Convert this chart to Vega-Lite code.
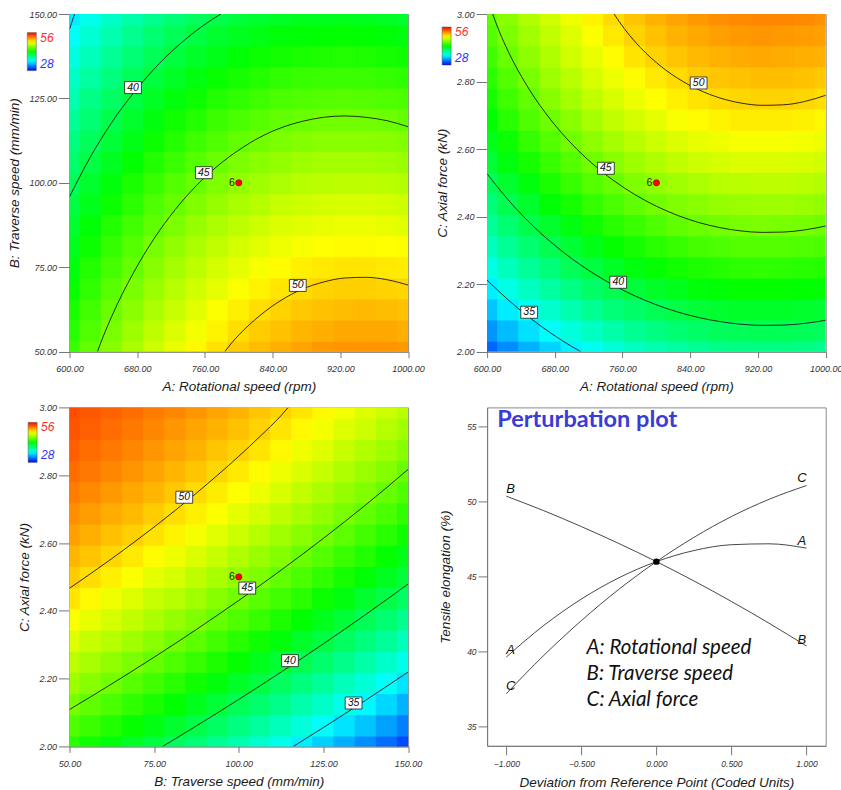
{
"$schema": "https://vega.github.io/schema/vega-lite/v6.json",
"padding": {"left": 6.5, "top": 9, "right": 0, "bottom": 0},
"background": "white",
"config": {
 "view": {"stroke": "#8a8a8a", "strokeWidth": 1},
 "axis": {"labelFont": "Liberation Sans", "labelFontStyle": "italic", "labelFontSize": 9, "labelColor": "#333", "titleFont": "Liberation Sans", "titleFontStyle": "italic", "titleFontWeight": "normal", "titleFontSize": 13.5, "titleColor": "#1a1a1a", "grid": false, "domainColor": "#777", "tickColor": "#777", "labelFlush": false, "labelOverlap": false},
 "axisX": {"tickSize": 6, "labelPadding": 7, "titlePadding": 6},
 "axisY": {"tickSize": 11, "labelPadding": 2, "titlePadding": 7}
},
"datasets": {
"g1": [
{"x":600,"y":50,"v":43.5},{"x":625,"y":50,"v":44.7},{"x":650,"y":50,"v":45.7},{"x":675,"y":50,"v":46.7},{"x":700,"y":50,"v":47.6},{"x":725,"y":50,"v":48.4},{"x":750,"y":50,"v":49.2},{"x":775,"y":50,"v":49.8},{"x":800,"y":50,"v":50.4},{"x":825,"y":50,"v":50.8},{"x":850,"y":50,"v":51.2},{"x":875,"y":50,"v":51.5},{"x":900,"y":50,"v":51.8},{"x":925,"y":50,"v":51.9},{"x":950,"y":50,"v":51.9},{"x":975,"y":50,"v":51.9},{"x":1000,"y":50,"v":51.8},
{"x":600,"y":56.25,"v":43.1},{"x":625,"y":56.25,"v":44.2},{"x":650,"y":56.25,"v":45.3},{"x":675,"y":56.25,"v":46.3},{"x":700,"y":56.25,"v":47.2},{"x":725,"y":56.25,"v":48.0},{"x":750,"y":56.25,"v":48.7},{"x":775,"y":56.25,"v":49.3},{"x":800,"y":56.25,"v":49.9},{"x":825,"y":56.25,"v":50.4},{"x":850,"y":56.25,"v":50.7},{"x":875,"y":56.25,"v":51.0},{"x":900,"y":56.25,"v":51.2},{"x":925,"y":56.25,"v":51.4},{"x":950,"y":56.25,"v":51.4},{"x":975,"y":56.25,"v":51.4},{"x":1000,"y":56.25,"v":51.2},
{"x":600,"y":62.5,"v":42.7},{"x":625,"y":62.5,"v":43.8},{"x":650,"y":62.5,"v":44.9},{"x":675,"y":62.5,"v":45.8},{"x":700,"y":62.5,"v":46.7},{"x":725,"y":62.5,"v":47.5},{"x":750,"y":62.5,"v":48.2},{"x":775,"y":62.5,"v":48.9},{"x":800,"y":62.5,"v":49.4},{"x":825,"y":62.5,"v":49.9},{"x":850,"y":62.5,"v":50.2},{"x":875,"y":62.5,"v":50.5},{"x":900,"y":62.5,"v":50.7},{"x":925,"y":62.5,"v":50.8},{"x":950,"y":62.5,"v":50.9},{"x":975,"y":62.5,"v":50.8},{"x":1000,"y":62.5,"v":50.7},
{"x":600,"y":68.75,"v":42.2},{"x":625,"y":68.75,"v":43.3},{"x":650,"y":68.75,"v":44.4},{"x":675,"y":68.75,"v":45.3},{"x":700,"y":68.75,"v":46.2},{"x":725,"y":68.75,"v":47.0},{"x":750,"y":68.75,"v":47.7},{"x":775,"y":68.75,"v":48.3},{"x":800,"y":68.75,"v":48.9},{"x":825,"y":68.75,"v":49.3},{"x":850,"y":68.75,"v":49.7},{"x":875,"y":68.75,"v":50.0},{"x":900,"y":68.75,"v":50.2},{"x":925,"y":68.75,"v":50.3},{"x":950,"y":68.75,"v":50.3},{"x":975,"y":68.75,"v":50.2},{"x":1000,"y":68.75,"v":50.1},
{"x":600,"y":75,"v":41.7},{"x":625,"y":75,"v":42.9},{"x":650,"y":75,"v":43.9},{"x":675,"y":75,"v":44.8},{"x":700,"y":75,"v":45.7},{"x":725,"y":75,"v":46.5},{"x":750,"y":75,"v":47.2},{"x":775,"y":75,"v":47.8},{"x":800,"y":75,"v":48.3},{"x":825,"y":75,"v":48.8},{"x":850,"y":75,"v":49.1},{"x":875,"y":75,"v":49.4},{"x":900,"y":75,"v":49.6},{"x":925,"y":75,"v":49.7},{"x":950,"y":75,"v":49.7},{"x":975,"y":75,"v":49.6},{"x":1000,"y":75,"v":49.5},
{"x":600,"y":81.25,"v":41.2},{"x":625,"y":81.25,"v":42.3},{"x":650,"y":81.25,"v":43.4},{"x":675,"y":81.25,"v":44.3},{"x":700,"y":81.25,"v":45.2},{"x":725,"y":81.25,"v":46.0},{"x":750,"y":81.25,"v":46.7},{"x":775,"y":81.25,"v":47.3},{"x":800,"y":81.25,"v":47.8},{"x":825,"y":81.25,"v":48.2},{"x":850,"y":81.25,"v":48.6},{"x":875,"y":81.25,"v":48.8},{"x":900,"y":81.25,"v":49.0},{"x":925,"y":81.25,"v":49.1},{"x":950,"y":81.25,"v":49.1},{"x":975,"y":81.25,"v":49.0},{"x":1000,"y":81.25,"v":48.9},
{"x":600,"y":87.5,"v":40.7},{"x":625,"y":87.5,"v":41.8},{"x":650,"y":87.5,"v":42.9},{"x":675,"y":87.5,"v":43.8},{"x":700,"y":87.5,"v":44.6},{"x":725,"y":87.5,"v":45.4},{"x":750,"y":87.5,"v":46.1},{"x":775,"y":87.5,"v":46.7},{"x":800,"y":87.5,"v":47.2},{"x":825,"y":87.5,"v":47.6},{"x":850,"y":87.5,"v":48.0},{"x":875,"y":87.5,"v":48.2},{"x":900,"y":87.5,"v":48.4},{"x":925,"y":87.5,"v":48.5},{"x":950,"y":87.5,"v":48.5},{"x":975,"y":87.5,"v":48.4},{"x":1000,"y":87.5,"v":48.2},
{"x":600,"y":93.75,"v":40.2},{"x":625,"y":93.75,"v":41.3},{"x":650,"y":93.75,"v":42.3},{"x":675,"y":93.75,"v":43.2},{"x":700,"y":93.75,"v":44.1},{"x":725,"y":93.75,"v":44.8},{"x":750,"y":93.75,"v":45.5},{"x":775,"y":93.75,"v":46.1},{"x":800,"y":93.75,"v":46.6},{"x":825,"y":93.75,"v":47.0},{"x":850,"y":93.75,"v":47.4},{"x":875,"y":93.75,"v":47.6},{"x":900,"y":93.75,"v":47.8},{"x":925,"y":93.75,"v":47.9},{"x":950,"y":93.75,"v":47.9},{"x":975,"y":93.75,"v":47.8},{"x":1000,"y":93.75,"v":47.6},
{"x":600,"y":100,"v":39.6},{"x":625,"y":100,"v":40.7},{"x":650,"y":100,"v":41.7},{"x":675,"y":100,"v":42.7},{"x":700,"y":100,"v":43.5},{"x":725,"y":100,"v":44.3},{"x":750,"y":100,"v":44.9},{"x":775,"y":100,"v":45.5},{"x":800,"y":100,"v":46.0},{"x":825,"y":100,"v":46.4},{"x":850,"y":100,"v":46.7},{"x":875,"y":100,"v":47.0},{"x":900,"y":100,"v":47.1},{"x":925,"y":100,"v":47.2},{"x":950,"y":100,"v":47.2},{"x":975,"y":100,"v":47.1},{"x":1000,"y":100,"v":46.9},
{"x":600,"y":106.25,"v":39.1},{"x":625,"y":106.25,"v":40.1},{"x":650,"y":106.25,"v":41.1},{"x":675,"y":106.25,"v":42.1},{"x":700,"y":106.25,"v":42.9},{"x":725,"y":106.25,"v":43.6},{"x":750,"y":106.25,"v":44.3},{"x":775,"y":106.25,"v":44.9},{"x":800,"y":106.25,"v":45.4},{"x":825,"y":106.25,"v":45.8},{"x":850,"y":106.25,"v":46.1},{"x":875,"y":106.25,"v":46.3},{"x":900,"y":106.25,"v":46.5},{"x":925,"y":106.25,"v":46.5},{"x":950,"y":106.25,"v":46.5},{"x":975,"y":106.25,"v":46.4},{"x":1000,"y":106.25,"v":46.2},
{"x":600,"y":112.5,"v":38.5},{"x":625,"y":112.5,"v":39.5},{"x":650,"y":112.5,"v":40.5},{"x":675,"y":112.5,"v":41.4},{"x":700,"y":112.5,"v":42.3},{"x":725,"y":112.5,"v":43.0},{"x":750,"y":112.5,"v":43.7},{"x":775,"y":112.5,"v":44.2},{"x":800,"y":112.5,"v":44.7},{"x":825,"y":112.5,"v":45.1},{"x":850,"y":112.5,"v":45.4},{"x":875,"y":112.5,"v":45.6},{"x":900,"y":112.5,"v":45.8},{"x":925,"y":112.5,"v":45.8},{"x":950,"y":112.5,"v":45.8},{"x":975,"y":112.5,"v":45.7},{"x":1000,"y":112.5,"v":45.5},
{"x":600,"y":118.75,"v":37.9},{"x":625,"y":118.75,"v":38.9},{"x":650,"y":118.75,"v":39.9},{"x":675,"y":118.75,"v":40.8},{"x":700,"y":118.75,"v":41.6},{"x":725,"y":118.75,"v":42.4},{"x":750,"y":118.75,"v":43.0},{"x":775,"y":118.75,"v":43.6},{"x":800,"y":118.75,"v":44.0},{"x":825,"y":118.75,"v":44.4},{"x":850,"y":118.75,"v":44.7},{"x":875,"y":118.75,"v":44.9},{"x":900,"y":118.75,"v":45.1},{"x":925,"y":118.75,"v":45.1},{"x":950,"y":118.75,"v":45.1},{"x":975,"y":118.75,"v":45.0},{"x":1000,"y":118.75,"v":44.7},
{"x":600,"y":125,"v":37.2},{"x":625,"y":125,"v":38.3},{"x":650,"y":125,"v":39.3},{"x":675,"y":125,"v":40.2},{"x":700,"y":125,"v":41.0},{"x":725,"y":125,"v":41.7},{"x":750,"y":125,"v":42.3},{"x":775,"y":125,"v":42.9},{"x":800,"y":125,"v":43.3},{"x":825,"y":125,"v":43.7},{"x":850,"y":125,"v":44.0},{"x":875,"y":125,"v":44.2},{"x":900,"y":125,"v":44.3},{"x":925,"y":125,"v":44.4},{"x":950,"y":125,"v":44.3},{"x":975,"y":125,"v":44.2},{"x":1000,"y":125,"v":44.0},
{"x":600,"y":131.25,"v":36.6},{"x":625,"y":131.25,"v":37.6},{"x":650,"y":131.25,"v":38.6},{"x":675,"y":131.25,"v":39.5},{"x":700,"y":131.25,"v":40.3},{"x":725,"y":131.25,"v":41.0},{"x":750,"y":131.25,"v":41.6},{"x":775,"y":131.25,"v":42.2},{"x":800,"y":131.25,"v":42.6},{"x":825,"y":131.25,"v":43.0},{"x":850,"y":131.25,"v":43.3},{"x":875,"y":131.25,"v":43.5},{"x":900,"y":131.25,"v":43.6},{"x":925,"y":131.25,"v":43.6},{"x":950,"y":131.25,"v":43.6},{"x":975,"y":131.25,"v":43.4},{"x":1000,"y":131.25,"v":43.2},
{"x":600,"y":137.5,"v":35.9},{"x":625,"y":137.5,"v":36.9},{"x":650,"y":137.5,"v":37.9},{"x":675,"y":137.5,"v":38.8},{"x":700,"y":137.5,"v":39.6},{"x":725,"y":137.5,"v":40.3},{"x":750,"y":137.5,"v":40.9},{"x":775,"y":137.5,"v":41.4},{"x":800,"y":137.5,"v":41.9},{"x":825,"y":137.5,"v":42.3},{"x":850,"y":137.5,"v":42.5},{"x":875,"y":137.5,"v":42.7},{"x":900,"y":137.5,"v":42.8},{"x":925,"y":137.5,"v":42.9},{"x":950,"y":137.5,"v":42.8},{"x":975,"y":137.5,"v":42.6},{"x":1000,"y":137.5,"v":42.4},
{"x":600,"y":143.75,"v":35.2},{"x":625,"y":143.75,"v":36.2},{"x":650,"y":143.75,"v":37.2},{"x":675,"y":143.75,"v":38.1},{"x":700,"y":143.75,"v":38.9},{"x":725,"y":143.75,"v":39.6},{"x":750,"y":143.75,"v":40.2},{"x":775,"y":143.75,"v":40.7},{"x":800,"y":143.75,"v":41.1},{"x":825,"y":143.75,"v":41.5},{"x":850,"y":143.75,"v":41.8},{"x":875,"y":143.75,"v":41.9},{"x":900,"y":143.75,"v":42.0},{"x":925,"y":143.75,"v":42.1},{"x":950,"y":143.75,"v":42.0},{"x":975,"y":143.75,"v":41.8},{"x":1000,"y":143.75,"v":41.6},
{"x":600,"y":150,"v":34.5},{"x":625,"y":150,"v":35.5},{"x":650,"y":150,"v":36.5},{"x":675,"y":150,"v":37.3},{"x":700,"y":150,"v":38.1},{"x":725,"y":150,"v":38.8},{"x":750,"y":150,"v":39.4},{"x":775,"y":150,"v":39.9},{"x":800,"y":150,"v":40.4},{"x":825,"y":150,"v":40.7},{"x":850,"y":150,"v":41.0},{"x":875,"y":150,"v":41.2},{"x":900,"y":150,"v":41.2},{"x":925,"y":150,"v":41.3},{"x":950,"y":150,"v":41.2},{"x":975,"y":150,"v":41.0},{"x":1000,"y":150,"v":40.8}
],
"g2": [
{"x":600,"y":2,"v":30.8},{"x":625,"y":2,"v":31.9},{"x":650,"y":2,"v":32.9},{"x":675,"y":2,"v":33.8},{"x":700,"y":2,"v":34.7},{"x":725,"y":2,"v":35.4},{"x":750,"y":2,"v":36.1},{"x":775,"y":2,"v":36.7},{"x":800,"y":2,"v":37.2},{"x":825,"y":2,"v":37.6},{"x":850,"y":2,"v":37.9},{"x":875,"y":2,"v":38.2},{"x":900,"y":2,"v":38.3},{"x":925,"y":2,"v":38.4},{"x":950,"y":2,"v":38.4},{"x":975,"y":2,"v":38.3},{"x":1000,"y":2,"v":38.1},
{"x":600,"y":2.0625,"v":32.1},{"x":625,"y":2.0625,"v":33.2},{"x":650,"y":2.0625,"v":34.2},{"x":675,"y":2.0625,"v":35.1},{"x":700,"y":2.0625,"v":36.0},{"x":725,"y":2.0625,"v":36.7},{"x":750,"y":2.0625,"v":37.4},{"x":775,"y":2.0625,"v":38.0},{"x":800,"y":2.0625,"v":38.5},{"x":825,"y":2.0625,"v":38.9},{"x":850,"y":2.0625,"v":39.2},{"x":875,"y":2.0625,"v":39.5},{"x":900,"y":2.0625,"v":39.6},{"x":925,"y":2.0625,"v":39.7},{"x":950,"y":2.0625,"v":39.7},{"x":975,"y":2.0625,"v":39.6},{"x":1000,"y":2.0625,"v":39.4},
{"x":600,"y":2.125,"v":33.4},{"x":625,"y":2.125,"v":34.5},{"x":650,"y":2.125,"v":35.5},{"x":675,"y":2.125,"v":36.4},{"x":700,"y":2.125,"v":37.2},{"x":725,"y":2.125,"v":38.0},{"x":750,"y":2.125,"v":38.7},{"x":775,"y":2.125,"v":39.2},{"x":800,"y":2.125,"v":39.7},{"x":825,"y":2.125,"v":40.1},{"x":850,"y":2.125,"v":40.5},{"x":875,"y":2.125,"v":40.7},{"x":900,"y":2.125,"v":40.9},{"x":925,"y":2.125,"v":40.9},{"x":950,"y":2.125,"v":40.9},{"x":975,"y":2.125,"v":40.8},{"x":1000,"y":2.125,"v":40.6},
{"x":600,"y":2.1875,"v":34.6},{"x":625,"y":2.1875,"v":35.7},{"x":650,"y":2.1875,"v":36.7},{"x":675,"y":2.1875,"v":37.6},{"x":700,"y":2.1875,"v":38.4},{"x":725,"y":2.1875,"v":39.2},{"x":750,"y":2.1875,"v":39.8},{"x":775,"y":2.1875,"v":40.4},{"x":800,"y":2.1875,"v":40.9},{"x":825,"y":2.1875,"v":41.3},{"x":850,"y":2.1875,"v":41.7},{"x":875,"y":2.1875,"v":41.9},{"x":900,"y":2.1875,"v":42.1},{"x":925,"y":2.1875,"v":42.1},{"x":950,"y":2.1875,"v":42.1},{"x":975,"y":2.1875,"v":42.0},{"x":1000,"y":2.1875,"v":41.8},
{"x":600,"y":2.25,"v":35.7},{"x":625,"y":2.25,"v":36.8},{"x":650,"y":2.25,"v":37.8},{"x":675,"y":2.25,"v":38.7},{"x":700,"y":2.25,"v":39.6},{"x":725,"y":2.25,"v":40.3},{"x":750,"y":2.25,"v":41.0},{"x":775,"y":2.25,"v":41.6},{"x":800,"y":2.25,"v":42.1},{"x":825,"y":2.25,"v":42.5},{"x":850,"y":2.25,"v":42.8},{"x":875,"y":2.25,"v":43.0},{"x":900,"y":2.25,"v":43.2},{"x":925,"y":2.25,"v":43.3},{"x":950,"y":2.25,"v":43.2},{"x":975,"y":2.25,"v":43.1},{"x":1000,"y":2.25,"v":43.0},
{"x":600,"y":2.3125,"v":36.8},{"x":625,"y":2.3125,"v":37.9},{"x":650,"y":2.3125,"v":38.9},{"x":675,"y":2.3125,"v":39.8},{"x":700,"y":2.3125,"v":40.6},{"x":725,"y":2.3125,"v":41.4},{"x":750,"y":2.3125,"v":42.1},{"x":775,"y":2.3125,"v":42.6},{"x":800,"y":2.3125,"v":43.1},{"x":825,"y":2.3125,"v":43.5},{"x":850,"y":2.3125,"v":43.9},{"x":875,"y":2.3125,"v":44.1},{"x":900,"y":2.3125,"v":44.3},{"x":925,"y":2.3125,"v":44.3},{"x":950,"y":2.3125,"v":44.3},{"x":975,"y":2.3125,"v":44.2},{"x":1000,"y":2.3125,"v":44.0},
{"x":600,"y":2.375,"v":37.8},{"x":625,"y":2.375,"v":38.9},{"x":650,"y":2.375,"v":39.9},{"x":675,"y":2.375,"v":40.8},{"x":700,"y":2.375,"v":41.6},{"x":725,"y":2.375,"v":42.4},{"x":750,"y":2.375,"v":43.1},{"x":775,"y":2.375,"v":43.6},{"x":800,"y":2.375,"v":44.1},{"x":825,"y":2.375,"v":44.6},{"x":850,"y":2.375,"v":44.9},{"x":875,"y":2.375,"v":45.1},{"x":900,"y":2.375,"v":45.3},{"x":925,"y":2.375,"v":45.4},{"x":950,"y":2.375,"v":45.3},{"x":975,"y":2.375,"v":45.2},{"x":1000,"y":2.375,"v":45.0},
{"x":600,"y":2.4375,"v":38.7},{"x":625,"y":2.4375,"v":39.8},{"x":650,"y":2.4375,"v":40.8},{"x":675,"y":2.4375,"v":41.8},{"x":700,"y":2.4375,"v":42.6},{"x":725,"y":2.4375,"v":43.4},{"x":750,"y":2.4375,"v":44.0},{"x":775,"y":2.4375,"v":44.6},{"x":800,"y":2.4375,"v":45.1},{"x":825,"y":2.4375,"v":45.5},{"x":850,"y":2.4375,"v":45.8},{"x":875,"y":2.4375,"v":46.1},{"x":900,"y":2.4375,"v":46.2},{"x":925,"y":2.4375,"v":46.3},{"x":950,"y":2.4375,"v":46.3},{"x":975,"y":2.4375,"v":46.2},{"x":1000,"y":2.4375,"v":46.0},
{"x":600,"y":2.5,"v":39.6},{"x":625,"y":2.5,"v":40.7},{"x":650,"y":2.5,"v":41.7},{"x":675,"y":2.5,"v":42.7},{"x":700,"y":2.5,"v":43.5},{"x":725,"y":2.5,"v":44.3},{"x":750,"y":2.5,"v":44.9},{"x":775,"y":2.5,"v":45.5},{"x":800,"y":2.5,"v":46.0},{"x":825,"y":2.5,"v":46.4},{"x":850,"y":2.5,"v":46.7},{"x":875,"y":2.5,"v":47.0},{"x":900,"y":2.5,"v":47.1},{"x":925,"y":2.5,"v":47.2},{"x":950,"y":2.5,"v":47.2},{"x":975,"y":2.5,"v":47.1},{"x":1000,"y":2.5,"v":46.9},
{"x":600,"y":2.5625,"v":40.5},{"x":625,"y":2.5625,"v":41.6},{"x":650,"y":2.5625,"v":42.6},{"x":675,"y":2.5625,"v":43.5},{"x":700,"y":2.5625,"v":44.3},{"x":725,"y":2.5625,"v":45.1},{"x":750,"y":2.5625,"v":45.8},{"x":775,"y":2.5625,"v":46.3},{"x":800,"y":2.5625,"v":46.8},{"x":825,"y":2.5625,"v":47.3},{"x":850,"y":2.5625,"v":47.6},{"x":875,"y":2.5625,"v":47.8},{"x":900,"y":2.5625,"v":48.0},{"x":925,"y":2.5625,"v":48.0},{"x":950,"y":2.5625,"v":48.0},{"x":975,"y":2.5625,"v":47.9},{"x":1000,"y":2.5625,"v":47.7},
{"x":600,"y":2.625,"v":41.3},{"x":625,"y":2.625,"v":42.3},{"x":650,"y":2.625,"v":43.4},{"x":675,"y":2.625,"v":44.3},{"x":700,"y":2.625,"v":45.1},{"x":725,"y":2.625,"v":45.9},{"x":750,"y":2.625,"v":46.5},{"x":775,"y":2.625,"v":47.1},{"x":800,"y":2.625,"v":47.6},{"x":825,"y":2.625,"v":48.0},{"x":850,"y":2.625,"v":48.4},{"x":875,"y":2.625,"v":48.6},{"x":900,"y":2.625,"v":48.8},{"x":925,"y":2.625,"v":48.8},{"x":950,"y":2.625,"v":48.8},{"x":975,"y":2.625,"v":48.7},{"x":1000,"y":2.625,"v":48.5},
{"x":600,"y":2.6875,"v":42.0},{"x":625,"y":2.6875,"v":43.1},{"x":650,"y":2.6875,"v":44.1},{"x":675,"y":2.6875,"v":45.0},{"x":700,"y":2.6875,"v":45.8},{"x":725,"y":2.6875,"v":46.6},{"x":750,"y":2.6875,"v":47.3},{"x":775,"y":2.6875,"v":47.8},{"x":800,"y":2.6875,"v":48.3},{"x":825,"y":2.6875,"v":48.8},{"x":850,"y":2.6875,"v":49.1},{"x":875,"y":2.6875,"v":49.3},{"x":900,"y":2.6875,"v":49.5},{"x":925,"y":2.6875,"v":49.5},{"x":950,"y":2.6875,"v":49.5},{"x":975,"y":2.6875,"v":49.4},{"x":1000,"y":2.6875,"v":49.2},
{"x":600,"y":2.75,"v":42.6},{"x":625,"y":2.75,"v":43.7},{"x":650,"y":2.75,"v":44.7},{"x":675,"y":2.75,"v":45.7},{"x":700,"y":2.75,"v":46.5},{"x":725,"y":2.75,"v":47.3},{"x":750,"y":2.75,"v":47.9},{"x":775,"y":2.75,"v":48.5},{"x":800,"y":2.75,"v":49.0},{"x":825,"y":2.75,"v":49.4},{"x":850,"y":2.75,"v":49.7},{"x":875,"y":2.75,"v":50.0},{"x":900,"y":2.75,"v":50.1},{"x":925,"y":2.75,"v":50.2},{"x":950,"y":2.75,"v":50.2},{"x":975,"y":2.75,"v":50.1},{"x":1000,"y":2.75,"v":49.9},
{"x":600,"y":2.8125,"v":43.2},{"x":625,"y":2.8125,"v":44.3},{"x":650,"y":2.8125,"v":45.3},{"x":675,"y":2.8125,"v":46.3},{"x":700,"y":2.8125,"v":47.1},{"x":725,"y":2.8125,"v":47.9},{"x":750,"y":2.8125,"v":48.5},{"x":775,"y":2.8125,"v":49.1},{"x":800,"y":2.8125,"v":49.6},{"x":825,"y":2.8125,"v":50.0},{"x":850,"y":2.8125,"v":50.4},{"x":875,"y":2.8125,"v":50.6},{"x":900,"y":2.8125,"v":50.7},{"x":925,"y":2.8125,"v":50.8},{"x":950,"y":2.8125,"v":50.8},{"x":975,"y":2.8125,"v":50.7},{"x":1000,"y":2.8125,"v":50.5},
{"x":600,"y":2.875,"v":43.8},{"x":625,"y":2.875,"v":44.9},{"x":650,"y":2.875,"v":45.9},{"x":675,"y":2.875,"v":46.8},{"x":700,"y":2.875,"v":47.7},{"x":725,"y":2.875,"v":48.4},{"x":750,"y":2.875,"v":49.1},{"x":775,"y":2.875,"v":49.7},{"x":800,"y":2.875,"v":50.2},{"x":825,"y":2.875,"v":50.6},{"x":850,"y":2.875,"v":50.9},{"x":875,"y":2.875,"v":51.1},{"x":900,"y":2.875,"v":51.3},{"x":925,"y":2.875,"v":51.4},{"x":950,"y":2.875,"v":51.3},{"x":975,"y":2.875,"v":51.2},{"x":1000,"y":2.875,"v":51.1},
{"x":600,"y":2.9375,"v":44.3},{"x":625,"y":2.9375,"v":45.4},{"x":650,"y":2.9375,"v":46.4},{"x":675,"y":2.9375,"v":47.3},{"x":700,"y":2.9375,"v":48.1},{"x":725,"y":2.9375,"v":48.9},{"x":750,"y":2.9375,"v":49.6},{"x":775,"y":2.9375,"v":50.2},{"x":800,"y":2.9375,"v":50.7},{"x":825,"y":2.9375,"v":51.1},{"x":850,"y":2.9375,"v":51.4},{"x":875,"y":2.9375,"v":51.6},{"x":900,"y":2.9375,"v":51.8},{"x":925,"y":2.9375,"v":51.9},{"x":950,"y":2.9375,"v":51.8},{"x":975,"y":2.9375,"v":51.7},{"x":1000,"y":2.9375,"v":51.6},
{"x":600,"y":3,"v":44.7},{"x":625,"y":3,"v":45.8},{"x":650,"y":3,"v":46.8},{"x":675,"y":3,"v":47.7},{"x":700,"y":3,"v":48.6},{"x":725,"y":3,"v":49.3},{"x":750,"y":3,"v":50.0},{"x":775,"y":3,"v":50.6},{"x":800,"y":3,"v":51.1},{"x":825,"y":3,"v":51.5},{"x":850,"y":3,"v":51.8},{"x":875,"y":3,"v":52.1},{"x":900,"y":3,"v":52.2},{"x":925,"y":3,"v":52.3},{"x":950,"y":3,"v":52.3},{"x":975,"y":3,"v":52.2},{"x":1000,"y":3,"v":52.0}
],
"g3": [
{"x":50,"y":2,"v":43.1},{"x":56.25,"y":2,"v":42.4},{"x":62.5,"y":2,"v":41.7},{"x":68.75,"y":2,"v":41.0},{"x":75,"y":2,"v":40.3},{"x":81.25,"y":2,"v":39.5},{"x":87.5,"y":2,"v":38.8},{"x":93.75,"y":2,"v":38.0},{"x":100,"y":2,"v":37.2},{"x":106.25,"y":2,"v":36.4},{"x":112.5,"y":2,"v":35.5},{"x":118.75,"y":2,"v":34.6},{"x":125,"y":2,"v":33.7},{"x":131.25,"y":2,"v":32.8},{"x":137.5,"y":2,"v":31.9},{"x":143.75,"y":2,"v":31.0},{"x":150,"y":2,"v":30.0},
{"x":50,"y":2.0625,"v":44.2},{"x":56.25,"y":2.0625,"v":43.6},{"x":62.5,"y":2.0625,"v":42.9},{"x":68.75,"y":2.0625,"v":42.2},{"x":75,"y":2.0625,"v":41.5},{"x":81.25,"y":2.0625,"v":40.8},{"x":87.5,"y":2.0625,"v":40.0},{"x":93.75,"y":2.0625,"v":39.3},{"x":100,"y":2.0625,"v":38.5},{"x":106.25,"y":2.0625,"v":37.7},{"x":112.5,"y":2.0625,"v":36.9},{"x":118.75,"y":2.0625,"v":36.0},{"x":125,"y":2.0625,"v":35.1},{"x":131.25,"y":2.0625,"v":34.3},{"x":137.5,"y":2.0625,"v":33.4},{"x":143.75,"y":2.0625,"v":32.4},{"x":150,"y":2.0625,"v":31.5},
{"x":50,"y":2.125,"v":45.3},{"x":56.25,"y":2.125,"v":44.6},{"x":62.5,"y":2.125,"v":44.0},{"x":68.75,"y":2.125,"v":43.3},{"x":75,"y":2.125,"v":42.7},{"x":81.25,"y":2.125,"v":42.0},{"x":87.5,"y":2.125,"v":41.2},{"x":93.75,"y":2.125,"v":40.5},{"x":100,"y":2.125,"v":39.7},{"x":106.25,"y":2.125,"v":39.0},{"x":112.5,"y":2.125,"v":38.2},{"x":118.75,"y":2.125,"v":37.3},{"x":125,"y":2.125,"v":36.5},{"x":131.25,"y":2.125,"v":35.6},{"x":137.5,"y":2.125,"v":34.8},{"x":143.75,"y":2.125,"v":33.9},{"x":150,"y":2.125,"v":32.9},
{"x":50,"y":2.1875,"v":46.3},{"x":56.25,"y":2.1875,"v":45.7},{"x":62.5,"y":2.1875,"v":45.1},{"x":68.75,"y":2.1875,"v":44.4},{"x":75,"y":2.1875,"v":43.8},{"x":81.25,"y":2.1875,"v":43.1},{"x":87.5,"y":2.1875,"v":42.4},{"x":93.75,"y":2.1875,"v":41.7},{"x":100,"y":2.1875,"v":40.9},{"x":106.25,"y":2.1875,"v":40.2},{"x":112.5,"y":2.1875,"v":39.4},{"x":118.75,"y":2.1875,"v":38.6},{"x":125,"y":2.1875,"v":37.8},{"x":131.25,"y":2.1875,"v":36.9},{"x":137.5,"y":2.1875,"v":36.1},{"x":143.75,"y":2.1875,"v":35.2},{"x":150,"y":2.1875,"v":34.3},
{"x":50,"y":2.25,"v":47.2},{"x":56.25,"y":2.25,"v":46.6},{"x":62.5,"y":2.25,"v":46.0},{"x":68.75,"y":2.25,"v":45.4},{"x":75,"y":2.25,"v":44.8},{"x":81.25,"y":2.25,"v":44.1},{"x":87.5,"y":2.25,"v":43.5},{"x":93.75,"y":2.25,"v":42.8},{"x":100,"y":2.25,"v":42.1},{"x":106.25,"y":2.25,"v":41.3},{"x":112.5,"y":2.25,"v":40.6},{"x":118.75,"y":2.25,"v":39.8},{"x":125,"y":2.25,"v":39.0},{"x":131.25,"y":2.25,"v":38.2},{"x":137.5,"y":2.25,"v":37.4},{"x":143.75,"y":2.25,"v":36.5},{"x":150,"y":2.25,"v":35.6},
{"x":50,"y":2.3125,"v":48.1},{"x":56.25,"y":2.3125,"v":47.5},{"x":62.5,"y":2.3125,"v":47.0},{"x":68.75,"y":2.3125,"v":46.4},{"x":75,"y":2.3125,"v":45.8},{"x":81.25,"y":2.3125,"v":45.1},{"x":87.5,"y":2.3125,"v":44.5},{"x":93.75,"y":2.3125,"v":43.8},{"x":100,"y":2.3125,"v":43.1},{"x":106.25,"y":2.3125,"v":42.4},{"x":112.5,"y":2.3125,"v":41.7},{"x":118.75,"y":2.3125,"v":40.9},{"x":125,"y":2.3125,"v":40.2},{"x":131.25,"y":2.3125,"v":39.4},{"x":137.5,"y":2.3125,"v":38.6},{"x":143.75,"y":2.3125,"v":37.8},{"x":150,"y":2.3125,"v":36.9},
{"x":50,"y":2.375,"v":48.9},{"x":56.25,"y":2.375,"v":48.4},{"x":62.5,"y":2.375,"v":47.8},{"x":68.75,"y":2.375,"v":47.3},{"x":75,"y":2.375,"v":46.7},{"x":81.25,"y":2.375,"v":46.1},{"x":87.5,"y":2.375,"v":45.5},{"x":93.75,"y":2.375,"v":44.8},{"x":100,"y":2.375,"v":44.1},{"x":106.25,"y":2.375,"v":43.5},{"x":112.5,"y":2.375,"v":42.8},{"x":118.75,"y":2.375,"v":42.0},{"x":125,"y":2.375,"v":41.3},{"x":131.25,"y":2.375,"v":40.5},{"x":137.5,"y":2.375,"v":39.7},{"x":143.75,"y":2.375,"v":38.9},{"x":150,"y":2.375,"v":38.1},
{"x":50,"y":2.4375,"v":49.7},{"x":56.25,"y":2.4375,"v":49.2},{"x":62.5,"y":2.4375,"v":48.6},{"x":68.75,"y":2.4375,"v":48.1},{"x":75,"y":2.4375,"v":47.5},{"x":81.25,"y":2.4375,"v":47.0},{"x":87.5,"y":2.4375,"v":46.4},{"x":93.75,"y":2.4375,"v":45.7},{"x":100,"y":2.4375,"v":45.1},{"x":106.25,"y":2.4375,"v":44.4},{"x":112.5,"y":2.4375,"v":43.8},{"x":118.75,"y":2.4375,"v":43.1},{"x":125,"y":2.4375,"v":42.3},{"x":131.25,"y":2.4375,"v":41.6},{"x":137.5,"y":2.4375,"v":40.8},{"x":143.75,"y":2.4375,"v":40.1},{"x":150,"y":2.4375,"v":39.3},
{"x":50,"y":2.5,"v":50.4},{"x":56.25,"y":2.5,"v":49.9},{"x":62.5,"y":2.5,"v":49.4},{"x":68.75,"y":2.5,"v":48.9},{"x":75,"y":2.5,"v":48.3},{"x":81.25,"y":2.5,"v":47.8},{"x":87.5,"y":2.5,"v":47.2},{"x":93.75,"y":2.5,"v":46.6},{"x":100,"y":2.5,"v":46.0},{"x":106.25,"y":2.5,"v":45.4},{"x":112.5,"y":2.5,"v":44.7},{"x":118.75,"y":2.5,"v":44.0},{"x":125,"y":2.5,"v":43.3},{"x":131.25,"y":2.5,"v":42.6},{"x":137.5,"y":2.5,"v":41.9},{"x":143.75,"y":2.5,"v":41.1},{"x":150,"y":2.5,"v":40.4},
{"x":50,"y":2.5625,"v":51.0},{"x":56.25,"y":2.5625,"v":50.6},{"x":62.5,"y":2.5625,"v":50.1},{"x":68.75,"y":2.5625,"v":49.6},{"x":75,"y":2.5625,"v":49.1},{"x":81.25,"y":2.5625,"v":48.6},{"x":87.5,"y":2.5625,"v":48.0},{"x":93.75,"y":2.5625,"v":47.4},{"x":100,"y":2.5625,"v":46.8},{"x":106.25,"y":2.5625,"v":46.2},{"x":112.5,"y":2.5625,"v":45.6},{"x":118.75,"y":2.5625,"v":44.9},{"x":125,"y":2.5625,"v":44.3},{"x":131.25,"y":2.5625,"v":43.6},{"x":137.5,"y":2.5625,"v":42.9},{"x":143.75,"y":2.5625,"v":42.1},{"x":150,"y":2.5625,"v":41.4},
{"x":50,"y":2.625,"v":51.6},{"x":56.25,"y":2.625,"v":51.2},{"x":62.5,"y":2.625,"v":50.7},{"x":68.75,"y":2.625,"v":50.3},{"x":75,"y":2.625,"v":49.8},{"x":81.25,"y":2.625,"v":49.3},{"x":87.5,"y":2.625,"v":48.7},{"x":93.75,"y":2.625,"v":48.2},{"x":100,"y":2.625,"v":47.6},{"x":106.25,"y":2.625,"v":47.0},{"x":112.5,"y":2.625,"v":46.4},{"x":118.75,"y":2.625,"v":45.8},{"x":125,"y":2.625,"v":45.2},{"x":131.25,"y":2.625,"v":44.5},{"x":137.5,"y":2.625,"v":43.8},{"x":143.75,"y":2.625,"v":43.1},{"x":150,"y":2.625,"v":42.4},
{"x":50,"y":2.6875,"v":52.1},{"x":56.25,"y":2.6875,"v":51.7},{"x":62.5,"y":2.6875,"v":51.3},{"x":68.75,"y":2.6875,"v":50.9},{"x":75,"y":2.6875,"v":50.4},{"x":81.25,"y":2.6875,"v":49.9},{"x":87.5,"y":2.6875,"v":49.4},{"x":93.75,"y":2.6875,"v":48.9},{"x":100,"y":2.6875,"v":48.3},{"x":106.25,"y":2.6875,"v":47.8},{"x":112.5,"y":2.6875,"v":47.2},{"x":118.75,"y":2.6875,"v":46.6},{"x":125,"y":2.6875,"v":46.0},{"x":131.25,"y":2.6875,"v":45.3},{"x":137.5,"y":2.6875,"v":44.7},{"x":143.75,"y":2.6875,"v":44.0},{"x":150,"y":2.6875,"v":43.3},
{"x":50,"y":2.75,"v":52.6},{"x":56.25,"y":2.75,"v":52.2},{"x":62.5,"y":2.75,"v":51.8},{"x":68.75,"y":2.75,"v":51.4},{"x":75,"y":2.75,"v":51.0},{"x":81.25,"y":2.75,"v":50.5},{"x":87.5,"y":2.75,"v":50.0},{"x":93.75,"y":2.75,"v":49.5},{"x":100,"y":2.75,"v":49.0},{"x":106.25,"y":2.75,"v":48.5},{"x":112.5,"y":2.75,"v":47.9},{"x":118.75,"y":2.75,"v":47.3},{"x":125,"y":2.75,"v":46.7},{"x":131.25,"y":2.75,"v":46.1},{"x":137.5,"y":2.75,"v":45.5},{"x":143.75,"y":2.75,"v":44.8},{"x":150,"y":2.75,"v":44.1},
{"x":50,"y":2.8125,"v":53.0},{"x":56.25,"y":2.8125,"v":52.7},{"x":62.5,"y":2.8125,"v":52.3},{"x":68.75,"y":2.8125,"v":51.9},{"x":75,"y":2.8125,"v":51.5},{"x":81.25,"y":2.8125,"v":51.0},{"x":87.5,"y":2.8125,"v":50.6},{"x":93.75,"y":2.8125,"v":50.1},{"x":100,"y":2.8125,"v":49.6},{"x":106.25,"y":2.8125,"v":49.1},{"x":112.5,"y":2.8125,"v":48.6},{"x":118.75,"y":2.8125,"v":48.0},{"x":125,"y":2.8125,"v":47.4},{"x":131.25,"y":2.8125,"v":46.8},{"x":137.5,"y":2.8125,"v":46.2},{"x":143.75,"y":2.8125,"v":45.6},{"x":150,"y":2.8125,"v":44.9},
{"x":50,"y":2.875,"v":53.4},{"x":56.25,"y":2.875,"v":53.0},{"x":62.5,"y":2.875,"v":52.7},{"x":68.75,"y":2.875,"v":52.3},{"x":75,"y":2.875,"v":51.9},{"x":81.25,"y":2.875,"v":51.5},{"x":87.5,"y":2.875,"v":51.1},{"x":93.75,"y":2.875,"v":50.6},{"x":100,"y":2.875,"v":50.2},{"x":106.25,"y":2.875,"v":49.7},{"x":112.5,"y":2.875,"v":49.2},{"x":118.75,"y":2.875,"v":48.6},{"x":125,"y":2.875,"v":48.1},{"x":131.25,"y":2.875,"v":47.5},{"x":137.5,"y":2.875,"v":46.9},{"x":143.75,"y":2.875,"v":46.3},{"x":150,"y":2.875,"v":45.7},
{"x":50,"y":2.9375,"v":53.7},{"x":56.25,"y":2.9375,"v":53.4},{"x":62.5,"y":2.9375,"v":53.0},{"x":68.75,"y":2.9375,"v":52.7},{"x":75,"y":2.9375,"v":52.3},{"x":81.25,"y":2.9375,"v":51.9},{"x":87.5,"y":2.9375,"v":51.5},{"x":93.75,"y":2.9375,"v":51.1},{"x":100,"y":2.9375,"v":50.7},{"x":106.25,"y":2.9375,"v":50.2},{"x":112.5,"y":2.9375,"v":49.7},{"x":118.75,"y":2.9375,"v":49.2},{"x":125,"y":2.9375,"v":48.7},{"x":131.25,"y":2.9375,"v":48.1},{"x":137.5,"y":2.9375,"v":47.6},{"x":143.75,"y":2.9375,"v":47.0},{"x":150,"y":2.9375,"v":46.4},
{"x":50,"y":3,"v":53.9},{"x":56.25,"y":3,"v":53.6},{"x":62.5,"y":3,"v":53.3},{"x":68.75,"y":3,"v":53.0},{"x":75,"y":3,"v":52.6},{"x":81.25,"y":3,"v":52.3},{"x":87.5,"y":3,"v":51.9},{"x":93.75,"y":3,"v":51.5},{"x":100,"y":3,"v":51.1},{"x":106.25,"y":3,"v":50.6},{"x":112.5,"y":3,"v":50.2},{"x":118.75,"y":3,"v":49.7},{"x":125,"y":3,"v":49.2},{"x":131.25,"y":3,"v":48.7},{"x":137.5,"y":3,"v":48.1},{"x":143.75,"y":3,"v":47.6},{"x":150,"y":3,"v":47.0}
],
"k1": [
{"x":600,"y":145.5,"lv":"35"},{"x":606,"y":150,"lv":"35"},
{"x":600,"y":95.85,"lv":"40"},{"x":625,"y":107.8,"lv":"40"},{"x":650,"y":117.9,"lv":"40"},{"x":675,"y":126.4,"lv":"40"},{"x":700,"y":133.7,"lv":"40"},{"x":725,"y":139.9,"lv":"40"},{"x":750,"y":145.1,"lv":"40"},{"x":775,"y":149.4,"lv":"40"},{"x":779,"y":150,"lv":"40"},
{"x":633,"y":50,"lv":"45"},{"x":640,"y":54.6,"lv":"45"},{"x":650,"y":60.5,"lv":"45"},{"x":675,"y":73.1,"lv":"45"},{"x":700,"y":83.5,"lv":"45"},{"x":725,"y":92.1,"lv":"45"},{"x":750,"y":99.2,"lv":"45"},{"x":775,"y":105.0,"lv":"45"},{"x":800,"y":109.7,"lv":"45"},{"x":825,"y":113.5,"lv":"45"},{"x":850,"y":116.3,"lv":"45"},{"x":875,"y":118.2,"lv":"45"},{"x":900,"y":119.4,"lv":"45"},{"x":925,"y":119.8,"lv":"45"},{"x":950,"y":119.4,"lv":"45"},{"x":975,"y":118.4,"lv":"45"},{"x":1000,"y":116.6,"lv":"45"},
{"x":783.5,"y":50,"lv":"50"},{"x":792,"y":52.7,"lv":"50"},{"x":800,"y":54.9,"lv":"50"},{"x":825,"y":60.7,"lv":"50"},{"x":850,"y":65.2,"lv":"50"},{"x":875,"y":68.5,"lv":"50"},{"x":900,"y":70.6,"lv":"50"},{"x":925,"y":71.8,"lv":"50"},{"x":950,"y":72.0,"lv":"50"},{"x":975,"y":71.3,"lv":"50"},{"x":1000,"y":69.7,"lv":"50"}
],
"k2": [
{"x":600,"y":2.2117,"lv":"35"},{"x":625,"y":2.153,"lv":"35"},{"x":650,"y":2.101,"lv":"35"},{"x":675,"y":2.0553,"lv":"35"},{"x":700,"y":2.0151,"lv":"35"},{"x":710.7,"y":2.0,"lv":"35"},
{"x":600,"y":2.527,"lv":"40"},{"x":625,"y":2.4492,"lv":"40"},{"x":650,"y":2.3826,"lv":"40"},{"x":675,"y":2.3251,"lv":"40"},{"x":700,"y":2.2754,"lv":"40"},{"x":725,"y":2.2326,"lv":"40"},{"x":750,"y":2.1958,"lv":"40"},{"x":775,"y":2.1646,"lv":"40"},{"x":800,"y":2.1386,"lv":"40"},{"x":825,"y":2.1174,"lv":"40"},{"x":850,"y":2.101,"lv":"40"},{"x":875,"y":2.0889,"lv":"40"},{"x":900,"y":2.0811,"lv":"40"},{"x":925,"y":2.0777,"lv":"40"},{"x":950,"y":2.0785,"lv":"40"},{"x":975,"y":2.0836,"lv":"40"},{"x":1000,"y":2.0928,"lv":"40"},
{"x":606.6,"y":3.0,"lv":"45"},{"x":614,"y":2.9508,"lv":"45"},{"x":625,"y":2.8889,"lv":"45"},{"x":650,"y":2.7758,"lv":"45"},{"x":675,"y":2.6872,"lv":"45"},{"x":700,"y":2.6151,"lv":"45"},{"x":725,"y":2.5554,"lv":"45"},{"x":750,"y":2.5057,"lv":"45"},{"x":775,"y":2.4645,"lv":"45"},{"x":800,"y":2.4306,"lv":"45"},{"x":825,"y":2.4035,"lv":"45"},{"x":850,"y":2.3824,"lv":"45"},{"x":875,"y":2.3672,"lv":"45"},{"x":900,"y":2.3574,"lv":"45"},{"x":925,"y":2.3531,"lv":"45"},{"x":950,"y":2.3541,"lv":"45"},{"x":975,"y":2.3604,"lv":"45"},{"x":1000,"y":2.3721,"lv":"45"},
{"x":750,"y":3.0,"lv":"50"},{"x":762,"y":2.9569,"lv":"50"},{"x":775,"y":2.9172,"lv":"50"},{"x":800,"y":2.8559,"lv":"50"},{"x":825,"y":2.8098,"lv":"50"},{"x":850,"y":2.7755,"lv":"50"},{"x":875,"y":2.7514,"lv":"50"},{"x":900,"y":2.7362,"lv":"50"},{"x":925,"y":2.7295,"lv":"50"},{"x":950,"y":2.731,"lv":"50"},{"x":975,"y":2.7408,"lv":"50"},{"x":1000,"y":2.7592,"lv":"50"}
],
"k3": [
{"x":116.1,"y":2.0,"lv":"35"},{"x":118.75,"y":2.0164,"lv":"35"},{"x":125,"y":2.0557,"lv":"35"},{"x":131.25,"y":2.0958,"lv":"35"},{"x":137.5,"y":2.1364,"lv":"35"},{"x":143.75,"y":2.1776,"lv":"35"},{"x":150,"y":2.2194,"lv":"35"},
{"x":77.5,"y":2.0,"lv":"40"},{"x":81.25,"y":2.0225,"lv":"40"},{"x":87.5,"y":2.0606,"lv":"40"},{"x":93.75,"y":2.0993,"lv":"40"},{"x":100,"y":2.1386,"lv":"40"},{"x":106.25,"y":2.1786,"lv":"40"},{"x":112.5,"y":2.2193,"lv":"40"},{"x":118.75,"y":2.2606,"lv":"40"},{"x":125,"y":2.3027,"lv":"40"},{"x":131.25,"y":2.3456,"lv":"40"},{"x":137.5,"y":2.3892,"lv":"40"},{"x":143.75,"y":2.4337,"lv":"40"},{"x":150,"y":2.479,"lv":"40"},
{"x":50,"y":2.1088,"lv":"45"},{"x":56.25,"y":2.1463,"lv":"45"},{"x":62.5,"y":2.1845,"lv":"45"},{"x":68.75,"y":2.2235,"lv":"45"},{"x":75,"y":2.2632,"lv":"45"},{"x":81.25,"y":2.3037,"lv":"45"},{"x":87.5,"y":2.3451,"lv":"45"},{"x":93.75,"y":2.3874,"lv":"45"},{"x":100,"y":2.4306,"lv":"45"},{"x":106.25,"y":2.4748,"lv":"45"},{"x":112.5,"y":2.52,"lv":"45"},{"x":118.75,"y":2.5663,"lv":"45"},{"x":125,"y":2.6138,"lv":"45"},{"x":131.25,"y":2.6625,"lv":"45"},{"x":137.5,"y":2.7126,"lv":"45"},{"x":143.75,"y":2.7641,"lv":"45"},{"x":150,"y":2.8172,"lv":"45"},
{"x":50,"y":2.4665,"lv":"50"},{"x":56.25,"y":2.5096,"lv":"50"},{"x":62.5,"y":2.554,"lv":"50"},{"x":68.75,"y":2.5999,"lv":"50"},{"x":75,"y":2.6472,"lv":"50"},{"x":81.25,"y":2.6963,"lv":"50"},{"x":87.5,"y":2.7473,"lv":"50"},{"x":93.75,"y":2.8004,"lv":"50"},{"x":100,"y":2.8559,"lv":"50"},{"x":106.25,"y":2.9142,"lv":"50"},{"x":112.5,"y":2.9761,"lv":"50"},{"x":114.6,"y":3.0,"lv":"50"}
],
"m1": [{"x":675,"y":128.2,"lv":"40"},{"x":758.7,"y":103,"lv":"45"},{"x":869.7,"y":69.6,"lv":"50"}],
"m2": [{"x":649.7,"y":2.1165,"lv":"35"},{"x":754.9,"y":2.2053,"lv":"40"},{"x":740.3,"y":2.543,"lv":"45"},{"x":849.9,"y":2.7957,"lv":"50"}],
"m3": [{"x":133.9,"y":2.128,"lv":"35"},{"x":115.1,"y":2.253,"lv":"40"},{"x":102.5,"y":2.467,"lv":"45"},{"x":83.9,"y":2.735,"lv":"50"}],
"d1": [{"x":800,"y":100,"n":"6"}],
"d2": [{"x":800,"y":2.5,"n":"6"}],
"d3": [{"x":100,"y":2.5,"n":"6"}],
"pl": [
{"x":-1,"y":39.63,"f":"A"},{"x":-0.75,"y":41.74,"f":"A"},{"x":-0.5,"y":43.5,"f":"A"},{"x":-0.25,"y":44.92,"f":"A"},{"x":0,"y":46,"f":"A"},{"x":0.25,"y":46.74,"f":"A"},{"x":0.5,"y":47.13,"f":"A"},{"x":0.75,"y":47.19,"f":"A"},{"x":1,"y":46.9,"f":"A"},
{"x":-1,"y":50.37,"f":"B"},{"x":-0.75,"y":49.4,"f":"B"},{"x":-0.5,"y":48.34,"f":"B"},{"x":-0.25,"y":47.21,"f":"B"},{"x":0,"y":46,"f":"B"},{"x":0.25,"y":44.71,"f":"B"},{"x":0.5,"y":43.34,"f":"B"},{"x":0.75,"y":41.89,"f":"B"},{"x":1,"y":40.36,"f":"B"},
{"x":-1,"y":37.18,"f":"C"},{"x":-0.75,"y":39.74,"f":"C"},{"x":-0.5,"y":42.06,"f":"C"},{"x":-0.25,"y":44.15,"f":"C"},{"x":0,"y":46,"f":"C"},{"x":0.25,"y":47.62,"f":"C"},{"x":0.5,"y":49.01,"f":"C"},{"x":0.75,"y":50.16,"f":"C"},{"x":1,"y":51.08,"f":"C"}
],
"pc": [{"x":0,"y":46}],
"plab": [{"x":-0.971,"y":50.57,"t":"B"},{"x":0.969,"y":51.31,"t":"C"},{"x":0.969,"y":47.08,"t":"A"},{"x":0.969,"y":40.51,"t":"B"},{"x":-0.971,"y":39.8,"t":"A"},{"x":-0.971,"y":37.4,"t":"C"}],
"pleg": [{"x":-0.465,"y":39.8,"t":"A: Rotational speed"},{"x":-0.465,"y":38.07,"t":"B: Traverse speed"},{"x":-0.465,"y":36.35,"t":"C: Axial force"}],
"ptit": [{"x":-1.06,"y":54.98,"t":"Perturbation plot"}]
},
"bounds": "flush",
"columns": 2,
"spacing": {"row": 55.4, "column": 78.6},
"resolve": {"scale": {"color": "independent"}},
"concat": [
 {"width": 338.6, "height": 337.6,
  "layer": [
   {"data": {"name": "g1"}, "mark": {"type": "square", "size": 500, "opacity": 1, "filled": true, "clip": true},
    "encoding": {
     "x": {"field": "x", "type": "quantitative", "title": "A: Rotational speed (rpm)", "scale": {"domain": [600, 1000], "nice": false, "zero": false}, "axis": {"values": [600, 680, 760, 840, 920, 1000], "format": ".2f"}},
     "y": {"field": "y", "type": "quantitative", "title": "B: Traverse speed (mm/min)", "scale": {"domain": [50, 150], "nice": false, "zero": false}, "axis": {"values": [50, 75, 100, 125, 150], "format": ".2f"}},
     "color": {"field": "v", "type": "quantitative", "scale": {"type": "linear", "domain": [28, 35, 42, 49, 56], "range": ["#0000ff", "#00ffff", "#00ff00", "#ffff00", "#ff0000"], "interpolate": "rgb", "clamp": true},
      "legend": {"title": null, "orient": "none", "legendX": -42.2, "legendY": 18.6, "direction": "vertical", "gradientLength": 38, "gradientThickness": 9, "values": [28, 56], "padding": 0, "labelFont": "Liberation Sans", "labelFontStyle": "italic", "labelFontSize": 12, "labelOffset": 4, "gradientStrokeColor": "#555", "gradientStrokeWidth": 0.5, "labelColor": {"expr": "datum.value > 40 ? '#ff2b2b' : '#3030ff'"}}}
    }},
   {"data": {"name": "k1"}, "mark": {"type": "line", "color": "#1a1a1a", "strokeWidth": 0.9, "interpolate": "monotone", "clip": true},
    "encoding": {"x": {"field": "x", "type": "quantitative"}, "y": {"field": "y", "type": "quantitative"}, "detail": {"field": "lv", "type": "nominal"}}},
   {"data": {"name": "m1"}, "mark": {"type": "point", "shape": "M-1.4,-1H1.4V1H-1.4Z", "size": 144, "filled": true, "fill": "white", "stroke": "#1a1a1a", "strokeWidth": 0.8, "opacity": 1},
    "encoding": {"x": {"field": "x", "type": "quantitative"}, "y": {"field": "y", "type": "quantitative"}}},
   {"data": {"name": "m1"}, "mark": {"type": "text", "font": "Liberation Sans", "fontStyle": "italic", "fontSize": 10.5, "color": "#111", "baseline": "middle", "align": "center"},
    "encoding": {"x": {"field": "x", "type": "quantitative"}, "y": {"field": "y", "type": "quantitative"}, "text": {"field": "lv", "type": "nominal"}}},
   {"data": {"name": "d1"}, "mark": {"type": "point", "shape": "circle", "size": 40, "filled": true, "fill": "#ff0000", "stroke": "#900000", "strokeWidth": 0.6, "opacity": 1},
    "encoding": {"x": {"field": "x", "type": "quantitative"}, "y": {"field": "y", "type": "quantitative"}}},
   {"data": {"name": "d1"}, "mark": {"type": "text", "align": "right", "dx": -4, "fontSize": 10.5, "font": "Liberation Sans", "color": "#222", "baseline": "middle"},
    "encoding": {"x": {"field": "x", "type": "quantitative"}, "y": {"field": "y", "type": "quantitative"}, "text": {"field": "n", "type": "nominal"}}}
  ]},
 {"width": 338.6, "height": 337.6,
  "layer": [
   {"data": {"name": "g2"}, "mark": {"type": "square", "size": 500, "opacity": 1, "filled": true, "clip": true},
    "encoding": {
     "x": {"field": "x", "type": "quantitative", "title": "A: Rotational speed (rpm)", "scale": {"domain": [600, 1000], "nice": false, "zero": false}, "axis": {"values": [600, 680, 760, 840, 920, 1000], "format": ".2f"}},
     "y": {"field": "y", "type": "quantitative", "title": "C: Axial force (kN)", "scale": {"domain": [2, 3], "nice": false, "zero": false}, "axis": {"values": [2, 2.2, 2.4, 2.6, 2.8, 3], "format": ".2f"}},
     "color": {"field": "v", "type": "quantitative", "scale": {"type": "linear", "domain": [28, 35, 42, 49, 56], "range": ["#0000ff", "#00ffff", "#00ff00", "#ffff00", "#ff0000"], "interpolate": "rgb", "clamp": true},
      "legend": {"title": null, "orient": "none", "legendX": -45, "legendY": 13, "direction": "vertical", "gradientLength": 38, "gradientThickness": 9, "values": [28, 56], "padding": 0, "labelFont": "Liberation Sans", "labelFontStyle": "italic", "labelFontSize": 12, "labelOffset": 4, "gradientStrokeColor": "#555", "gradientStrokeWidth": 0.5, "labelColor": {"expr": "datum.value > 40 ? '#ff2b2b' : '#3030ff'"}}}
    }},
   {"data": {"name": "k2"}, "mark": {"type": "line", "color": "#1a1a1a", "strokeWidth": 0.9, "interpolate": "monotone", "clip": true},
    "encoding": {"x": {"field": "x", "type": "quantitative"}, "y": {"field": "y", "type": "quantitative"}, "detail": {"field": "lv", "type": "nominal"}}},
   {"data": {"name": "m2"}, "mark": {"type": "point", "shape": "M-1.4,-1H1.4V1H-1.4Z", "size": 144, "filled": true, "fill": "white", "stroke": "#1a1a1a", "strokeWidth": 0.8, "opacity": 1},
    "encoding": {"x": {"field": "x", "type": "quantitative"}, "y": {"field": "y", "type": "quantitative"}}},
   {"data": {"name": "m2"}, "mark": {"type": "text", "font": "Liberation Sans", "fontStyle": "italic", "fontSize": 10.5, "color": "#111", "baseline": "middle", "align": "center"},
    "encoding": {"x": {"field": "x", "type": "quantitative"}, "y": {"field": "y", "type": "quantitative"}, "text": {"field": "lv", "type": "nominal"}}},
   {"data": {"name": "d2"}, "mark": {"type": "point", "shape": "circle", "size": 40, "filled": true, "fill": "#ff0000", "stroke": "#900000", "strokeWidth": 0.6, "opacity": 1},
    "encoding": {"x": {"field": "x", "type": "quantitative"}, "y": {"field": "y", "type": "quantitative"}}},
   {"data": {"name": "d2"}, "mark": {"type": "text", "align": "right", "dx": -4, "fontSize": 10.5, "font": "Liberation Sans", "color": "#222", "baseline": "middle"},
    "encoding": {"x": {"field": "x", "type": "quantitative"}, "y": {"field": "y", "type": "quantitative"}, "text": {"field": "n", "type": "nominal"}}}
  ]},
 {"width": 338.6, "height": 339,
  "layer": [
   {"data": {"name": "g3"}, "mark": {"type": "square", "size": 500, "opacity": 1, "filled": true, "clip": true},
    "encoding": {
     "x": {"field": "x", "type": "quantitative", "title": "B: Traverse speed (mm/min)", "scale": {"domain": [50, 150], "nice": false, "zero": false}, "axis": {"values": [50, 75, 100, 125, 150], "format": ".2f"}},
     "y": {"field": "y", "type": "quantitative", "title": "C: Axial force (kN)", "scale": {"domain": [2, 3], "nice": false, "zero": false}, "axis": {"values": [2, 2.2, 2.4, 2.6, 2.8, 3], "format": ".2f"}},
     "color": {"field": "v", "type": "quantitative", "scale": {"type": "linear", "domain": [28, 35, 42, 49, 56], "range": ["#0000ff", "#00ffff", "#00ff00", "#ffff00", "#ff0000"], "interpolate": "rgb", "clamp": true},
      "legend": {"title": null, "orient": "none", "legendX": -41.4, "legendY": 15, "direction": "vertical", "gradientLength": 40, "gradientThickness": 9, "values": [28, 56], "padding": 0, "labelFont": "Liberation Sans", "labelFontStyle": "italic", "labelFontSize": 12, "labelOffset": 4, "gradientStrokeColor": "#555", "gradientStrokeWidth": 0.5, "labelColor": {"expr": "datum.value > 40 ? '#ff2b2b' : '#3030ff'"}}}
    }},
   {"data": {"name": "k3"}, "mark": {"type": "line", "color": "#1a1a1a", "strokeWidth": 0.9, "interpolate": "monotone", "clip": true},
    "encoding": {"x": {"field": "x", "type": "quantitative"}, "y": {"field": "y", "type": "quantitative"}, "detail": {"field": "lv", "type": "nominal"}}},
   {"data": {"name": "m3"}, "mark": {"type": "point", "shape": "M-1.4,-1H1.4V1H-1.4Z", "size": 144, "filled": true, "fill": "white", "stroke": "#1a1a1a", "strokeWidth": 0.8, "opacity": 1},
    "encoding": {"x": {"field": "x", "type": "quantitative"}, "y": {"field": "y", "type": "quantitative"}}},
   {"data": {"name": "m3"}, "mark": {"type": "text", "font": "Liberation Sans", "fontStyle": "italic", "fontSize": 10.5, "color": "#111", "baseline": "middle", "align": "center"},
    "encoding": {"x": {"field": "x", "type": "quantitative"}, "y": {"field": "y", "type": "quantitative"}, "text": {"field": "lv", "type": "nominal"}}},
   {"data": {"name": "d3"}, "mark": {"type": "point", "shape": "circle", "size": 40, "filled": true, "fill": "#ff0000", "stroke": "#900000", "strokeWidth": 0.6, "opacity": 1},
    "encoding": {"x": {"field": "x", "type": "quantitative"}, "y": {"field": "y", "type": "quantitative"}}},
   {"data": {"name": "d3"}, "mark": {"type": "text", "align": "right", "dx": -4, "fontSize": 10.5, "font": "Liberation Sans", "color": "#222", "baseline": "middle"},
    "encoding": {"x": {"field": "x", "type": "quantitative"}, "y": {"field": "y", "type": "quantitative"}, "text": {"field": "n", "type": "nominal"}}}
  ]},
 {"width": 338.6, "height": 338.4,
  "layer": [
   {"data": {"name": "pl"}, "mark": {"type": "line", "color": "#333", "strokeWidth": 0.9, "interpolate": "monotone"},
    "encoding": {
     "x": {"field": "x", "type": "quantitative", "title": "Deviation from Reference Point (Coded Units)", "scale": {"domain": [-1.128, 1.128], "nice": false, "zero": false}, "axis": {"values": [-1, -0.5, 0, 0.5, 1], "format": ".3f", "tickSize": 9, "labelPadding": 5, "labelFontSize": 8.5, "titlePadding": 7}},
     "y": {"field": "y", "type": "quantitative", "title": "Tensile elongation (%)", "scale": {"domain": [33.7, 56.3], "nice": false, "zero": false}, "axis": {"values": [35, 40, 45, 50, 55], "tickSize": 9, "labelPadding": 2, "labelFontSize": 8.5, "titlePadding": 14}},
     "detail": {"field": "f", "type": "nominal"}
    }},
   {"data": {"name": "pc"}, "mark": {"type": "point", "shape": "circle", "size": 42, "filled": true, "color": "#000", "opacity": 1},
    "encoding": {"x": {"field": "x", "type": "quantitative"}, "y": {"field": "y", "type": "quantitative"}}},
   {"data": {"name": "plab"}, "mark": {"type": "text", "font": "Liberation Sans", "fontStyle": "italic", "fontSize": 13, "color": "#111", "align": "center", "baseline": "alphabetic"},
    "encoding": {"x": {"field": "x", "type": "quantitative"}, "y": {"field": "y", "type": "quantitative"}, "text": {"field": "t", "type": "nominal"}}},
   {"data": {"name": "pleg"}, "mark": {"type": "text", "font": "Lato", "fontStyle": "italic", "fontSize": 20.5, "color": "#111", "align": "left", "baseline": "alphabetic"},
    "encoding": {"x": {"field": "x", "type": "quantitative"}, "y": {"field": "y", "type": "quantitative"}, "text": {"field": "t", "type": "nominal"}}},
   {"data": {"name": "ptit"}, "mark": {"type": "text", "font": "Lato", "fontWeight": "bold", "fontSize": 23.5, "color": "#3b3bd6", "align": "left", "baseline": "alphabetic"},
    "encoding": {"x": {"field": "x", "type": "quantitative"}, "y": {"field": "y", "type": "quantitative"}, "text": {"field": "t", "type": "nominal"}}}
  ]}
]
}
